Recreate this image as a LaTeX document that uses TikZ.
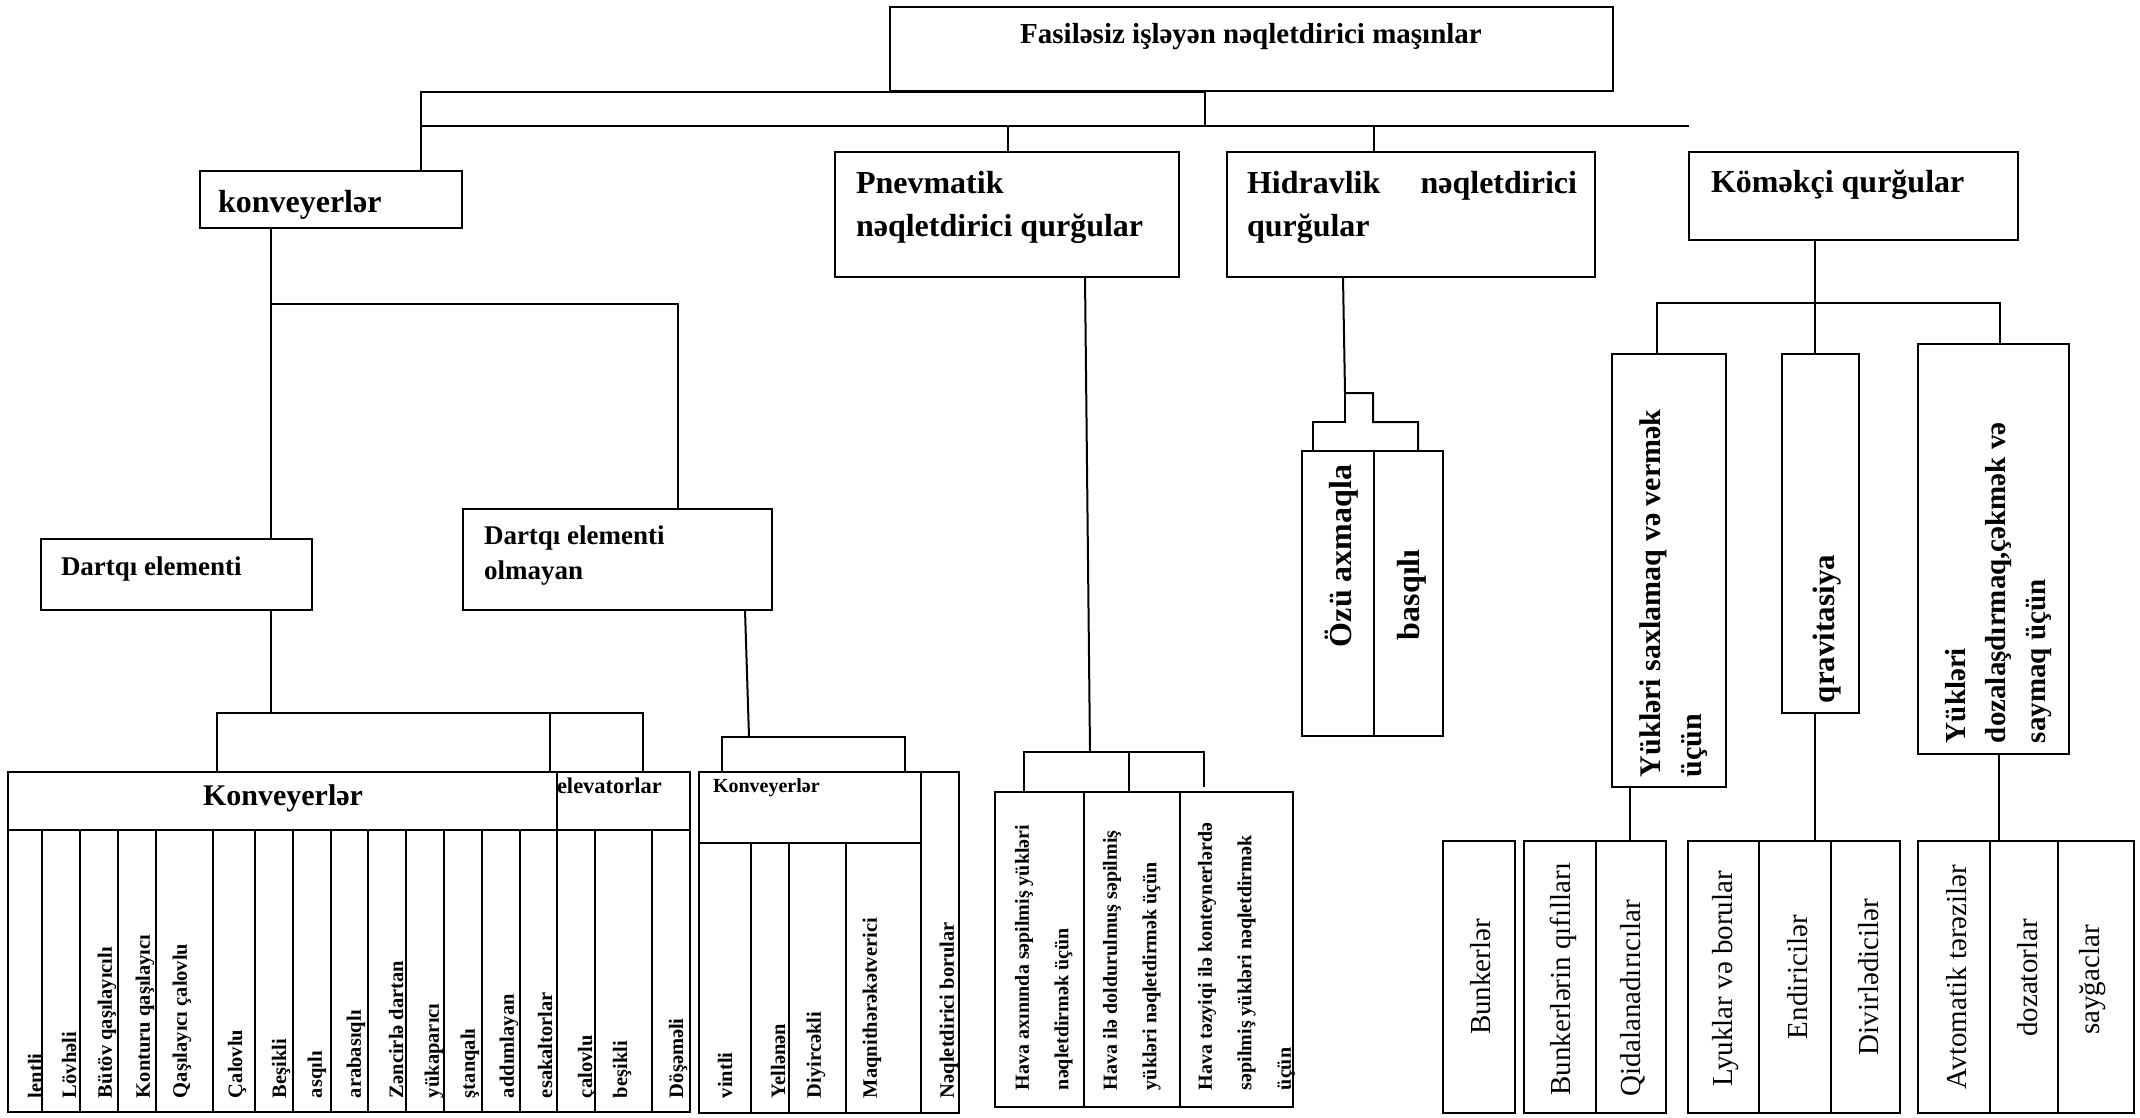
\documentclass[tikz,border=0pt]{standalone}
\usepackage{fontspec}
\setmainfont{Liberation Serif}
\newcommand\bx[5]{\node[bx, anchor=north west, minimum width={#4-#2}, minimum height={#5-#3}] (#1) at (#2,#3) {};}
\newcommand\rlab[3]{\node[rlb] (#1) at (#2,1098) {#3};}
\newcommand\klab[4]{\node[klb] (#1) at (#2,#3) {#4};}
\begin{document}
\begin{tikzpicture}[x=1pt,y=-1pt,
  bx/.style={draw, line width=2.4pt, inner sep=0pt, outer sep=0pt},
  ln/.style={line width=2pt},
  tx/.style={inner sep=0pt, outer sep=0pt},
  rlb/.style={tx, rotate=90, anchor=west, font=\bfseries\fontsize{20.5}{24}\selectfont},
  klb/.style={tx, rotate=90, anchor=center, font=\fontsize{29}{34}\selectfont},
  hava/.style={tx, rotate=90, anchor=north west, align=left, font=\bfseries\fontsize{20}{39.5}\selectfont},
  big/.style={tx, rotate=90, align=left, font=\bfseries\fontsize{30}{41}\selectfont}]
\useasboundingbox (0,0) rectangle (2140,1118);
\fill[white] (0,0) rectangle (2140,1118);

% ---------- boxes ----------
\bx{top}{890}{7}{1613}{91}
\bx{konv}{200}{171}{462}{228}
\bx{pnev}{835}{152}{1179}{277}
\bx{hidr}{1227}{152}{1595}{277}
\bx{kom}{1689}{152}{2018}{240}
\bx{dart}{41}{539}{312}{610}
\bx{dolm}{463}{509}{772}{610}
% conveyor group 1
\bx{K1}{8}{772}{557}{830}
\bx{E1}{557}{772}{690}{830}
\bx{c1}{8}{830}{42}{1112}
\bx{c2}{42}{830}{80}{1112}
\bx{c3}{80}{830}{118}{1112}
\bx{c4}{118}{830}{156}{1112}
\bx{c5}{156}{830}{213}{1112}
\bx{c6}{213}{830}{255}{1112}
\bx{c7}{255}{830}{293}{1112}
\bx{c8}{293}{830}{331}{1112}
\bx{c9}{331}{830}{368}{1112}
\bx{c10}{368}{830}{406}{1112}
\bx{c11}{406}{830}{444}{1112}
\bx{c12}{444}{830}{482}{1112}
\bx{c13}{482}{830}{520}{1112}
\bx{c14}{520}{830}{557}{1112}
\bx{e1}{557}{830}{595}{1112}
\bx{e2}{595}{830}{652}{1112}
\bx{e3}{652}{830}{690}{1112}
% conveyor group 2
\bx{G2}{699}{772}{921}{843}
\bx{g1}{699}{843}{751}{1113}
\bx{g2}{751}{843}{789}{1113}
\bx{g3}{789}{843}{846}{1113}
\bx{g4}{846}{843}{921}{1113}
\bx{bor}{921}{772}{959}{1113}
% pneumatic
\bx{h1}{995}{792}{1084}{1107}
\bx{h2}{1084}{792}{1180}{1107}
\bx{h3}{1180}{792}{1293}{1107}
% hydraulic
\bx{oz}{1302}{451}{1374}{736}
\bx{bas}{1374}{451}{1443}{736}
% auxiliary
\bx{saxla}{1612}{354}{1726}{787}
\bx{qrav}{1782}{354}{1859}{713}
\bx{doza}{1918}{344}{2069}{754}
\bx{bu}{1443}{841}{1515}{1113}
\bx{bq}{1524}{841}{1596}{1113}
\bx{qi}{1596}{841}{1666}{1113}
\bx{ly}{1688}{841}{1759}{1113}
\bx{en}{1759}{841}{1831}{1113}
\bx{di}{1831}{841}{1900}{1113}
\bx{av}{1918}{841}{1990}{1113}
\bx{dz}{1990}{841}{2058}{1113}
\bx{sa}{2058}{841}{2134}{1113}

% ---------- connectors ----------
\coordinate (j1) at (421,92);
\coordinate (s0) at (1205,92);
\coordinate (hl) at (421,126);
\coordinate (hr) at (1689,126);
\coordinate (pj) at (1008,126);
\coordinate (hj) at (1374,126);
\draw[ln] (j1 |- konv.north) -- (j1) -- (s0) -- (s0 |- hl);
\draw[ln] (hl) -- (hr);
\draw[ln] (pj) -- (pj |- pnev.north);
\draw[ln] (hj) -- (hj |- hidr.north);

\coordinate (kj) at (271,304);
\coordinate (kj2) at (678,304);
\draw[ln] (kj |- konv.south) -- (kj |- dart.north);
\draw[ln] (kj) -- (kj2) -- (kj2 |- dolm.north);

\coordinate (dj) at (271,713);
\coordinate (dl) at (217,713);
\coordinate (dm) at (550,713);
\coordinate (dr) at (643,713);
\draw[ln] (dj |- dart.south) -- (dj);
\draw[ln] (dl |- K1.north) -- (dl) -- (dr) -- (dr |- E1.north);
\draw[ln] (dm) -- (dm |- K1.north);

\coordinate (oj) at (749,737);
\coordinate (ol) at (722,737);
\coordinate (or) at (905,737);
\draw[ln] ([xshift=127.5pt]dolm.south) -- (oj);
\draw[ln] (ol |- G2.north) -- (ol) -- (or) -- (or |- bor.north);

\coordinate (pb) at (1090,752);
\coordinate (pl) at (1024,752);
\coordinate (pm) at (1129,752);
\coordinate (pr) at (1204,752);
\coordinate (pre) at (1204,787);
\draw[ln] ([xshift=78pt]pnev.south) -- (pb);
\draw[ln] (pl |- h1.north) -- (pl) -- (pr) -- (pre);
\draw[ln] (pm) -- (pm |- h2.north);

\coordinate (hq1) at (1345,393);
\coordinate (hq2) at (1373,393);
\coordinate (hq3) at (1373,422);
\coordinate (hq4) at (1418,422);
\coordinate (hq5) at (1345,422);
\coordinate (hq6) at (1313,422);
\draw[ln] ([xshift=-68pt]hidr.south) -- (hq1) -- (hq2) -- (hq3) -- (hq4) -- (hq4 |- bas.north);
\draw[ln] (hq1) -- (hq5) -- (hq6) -- (hq6 |- oz.north);

\coordinate (cj) at (1815,303);
\coordinate (cl) at (1657,303);
\coordinate (cr) at (2000,303);
\draw[ln] (cj |- kom.south) -- (cj) -- (cj |- qrav.north);
\draw[ln] (cl |- saxla.north) -- (cl) -- (cr) -- (cr |- doza.north);
\coordinate (sb) at (1630,841);
\coordinate (qb) at (1815,841);
\coordinate (zb) at (1999,841);
\draw[ln] (sb |- saxla.south) -- (sb);
\draw[ln] (qb |- qrav.south) -- (qb);
\draw[ln] (zb |- doza.south) -- (zb);

% ---------- texts ----------
\node[tx, anchor=base, font=\bfseries\fontsize{29}{34}\selectfont] (tTop) at (1251,44) {Fasiləsiz işləyən nəqletdirici maşınlar};
\node[tx, anchor=base west, font=\bfseries\fontsize{32}{38}\selectfont] (tKonv) at (218,212) {konveyerlər};
\node[tx, anchor=north west, align=left, font=\bfseries\fontsize{32}{43}\selectfont] (tPnev) at (856,171) {Pnevmatik\\nəqletdirici qurğular};
\node[tx, anchor=north west, align=left, font=\bfseries\fontsize{32}{43}\selectfont] (tHidr) at (1247,171) {\makebox[330pt][s]{Hidravlik\hfill nəqletdirici}\\qurğular};
\node[tx, anchor=base west, font=\bfseries\fontsize{32}{38}\selectfont] (tKom) at (1711,193) {Köməkçi qurğular};
\node[tx, anchor=base west, font=\bfseries\fontsize{27}{32}\selectfont] (tDart) at (61,575) {Dartqı elementi};
\node[tx, anchor=north west, align=left, font=\bfseries\fontsize{27}{35}\selectfont] (tDolm) at (484,526) {Dartqı elementi\\olmayan};
\node[tx, anchor=base, font=\bfseries\fontsize{30}{36}\selectfont] (tK1) at (283,805) {Konveyerlər};
\node[tx, anchor=base west, font=\bfseries\fontsize{22.5}{27}\selectfont] (tE1) at (557,793) {elevatorlar};
\node[tx, anchor=base west, font=\bfseries\fontsize{20}{24}\selectfont] (tG2) at (713,792) {Konveyerlər};

\rlab{l1}{35}{lentli}
\rlab{l2}{69}{Lövhəli}
\rlab{l3}{107}{Bütöv qaşılayıcılı}
\rlab{l4}{145}{Konturu qaşılayıcı}
\rlab{l5}{182}{Qaşılayıcı çalovlu}
\rlab{l6}{237}{Çalovlu}
\rlab{l7}{281}{Beşikli}
\rlab{l8}{317}{asqılı}
\rlab{l9}{356}{arabasıqlı}
\rlab{l10}{396}{Zəncirlə dartan}
\rlab{l11}{434}{yükaparıcı}
\rlab{l12}{470}{ştanqalı}
\rlab{l13}{509}{addımlayan}
\rlab{l14}{545}{esakaltorlar}
\rlab{l15}{587}{çalovlu}
\rlab{l16}{622}{beşikli}
\rlab{l17}{678}{Döşəməli}
\rlab{l18}{725}{vintli}
\rlab{l19}{778}{Yellənən}
\rlab{l20}{816}{Diyircəkli}
\rlab{l21}{872}{Maqnithərəkətverici}
\rlab{l22}{949}{Nəqletdirici borular}

\node[hava] (tH1) at (1015,1090) {Hava axınında səpilmiş yükləri\\nəqletdirmək üçün};
\node[hava] (tH2) at (1103,1090) {Hava ilə doldurulmuş səpilmiş\\yükləri nəqletdirmək üçün};
\node[hava] (tH3) at (1198,1090) {Hava təzyiqi ilə konteynerlərdə\\səpilmiş yükləri nəqletdirmək\\üçün};

\node[tx, rotate=90, anchor=west, font=\bfseries\fontsize{32}{38}\selectfont] (tOz) at (1342,647) {Özü axmaqla};
\node[tx, rotate=90, anchor=west, font=\bfseries\fontsize{32}{38}\selectfont] (tBas) at (1412,640) {basqılı};

\node[big, anchor=north west] (tSax) at (1640,777) {Yükləri saxlamaq və vermək\\üçün};
\node[tx, rotate=90, anchor=west, font=\bfseries\fontsize{31}{36}\selectfont] (tQrav) at (1827,703) {qravitasiya};
\node[big, anchor=north west, font=\bfseries\fontsize{29}{40}\selectfont] (tDoz) at (1945,743) {Yükləri\\dozalaşdırmaq,çəkmək və\\saymaq üçün};

\klab{k1}{1481}{977}{Bunkerlər}
\klab{k2}{1563}{979}{Bunkerlərin qıfılları}
\klab{k3}{1633}{998}{Qidalanadırıcılar}
\klab{k4}{1726}{979}{Lyuklar və borular}
\klab{k5}{1798}{977}{Endiricilər}
\klab{k6}{1869}{977}{Divirlədicilər}
\klab{k7}{1957}{977}{Avtomatik tərəzilər}
\klab{k8}{2028}{978}{dozatorlar}
\klab{k9}{2093}{980}{sayğaclar}
\end{tikzpicture}
\end{document}
